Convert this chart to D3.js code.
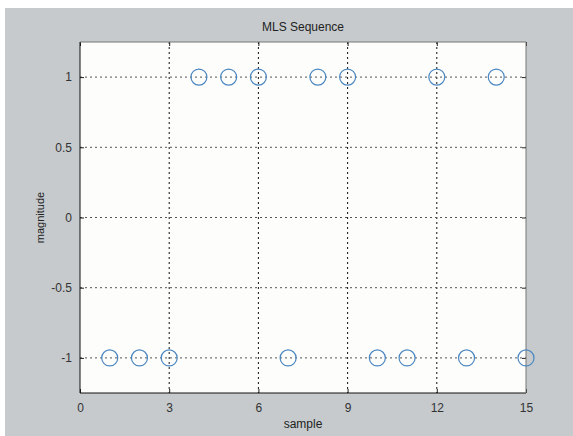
<!DOCTYPE html>
<meta charset="utf-8">
<style>
body { margin: 0; background: #fff; }
svg { display: block; }
text { font-family: "Liberation Sans", Arial, sans-serif; }
</style>
<body>
<script src="https://d3js.org/d3.v7.min.js"></script>
<script>

// MLS sequence values, sample 1..15
var samples = [1, 2, 3, 4, 5, 6, 7, 8, 9, 10, 11, 12, 13, 14, 15];
var values  = [-1, -1, -1, 1, 1, 1, -1, 1, 1, -1, -1, 1, -1, 1, -1];
var xTicks = [0, 3, 6, 9, 12, 15];
var yTicks = [-1, -0.5, 0, 0.5, 1];

var W = 573, H = 436;
var margin = {top: 42, right: 47, bottom: 43, left: 80},
    width = W - margin.left - margin.right,
    height = H - margin.top - margin.bottom;

var svg = d3.select("body").append("svg")
    .attr("width", W)
    .attr("height", H);

// gray figure background
svg.append("rect")
    .attr("x", 5).attr("y", 8)
    .attr("width", W - 5).attr("height", H - 8)
    .attr("fill", "#c6cacd");

var g = svg.append("g")
    .attr("transform", "translate(" + margin.left + "," + margin.top + ")");

var x = d3.scaleLinear().domain([0, 15]).range([0, width]);
var y = d3.scaleLinear().domain([-1.25, 1.25]).range([height, 0]);

g.append("rect")
    .attr("width", width).attr("height", height)
    .attr("fill", "#fdfdfc");

// grid
g.selectAll(".vgrid").data(xTicks.slice(1, -1)).enter().append("line")
    .attr("x1", d => x(d)).attr("x2", d => x(d))
    .attr("y1", 0).attr("y2", height)
    .attr("stroke", "#111").attr("stroke-width", 1)
    .attr("stroke-dasharray", "2,3");

g.selectAll(".hgrid").data(yTicks).enter().append("line")
    .attr("x1", 0).attr("x2", width)
    .attr("y1", d => y(d)).attr("y2", d => y(d))
    .attr("stroke", "#555").attr("stroke-width", 1)
    .attr("stroke-dasharray", "2,3");

// axes
var xAxis = g.append("g")
    .attr("transform", "translate(0," + height + ")")
    .call(d3.axisBottom(x).tickValues(xTicks).tickSize(-4).tickPadding(10));
var xTop = g.append("g")
    .call(d3.axisTop(x).tickValues(xTicks).tickSize(-4).tickFormat(""));
var yAxis = g.append("g")
    .call(d3.axisLeft(y).tickValues(yTicks).tickSize(-4).tickPadding(8)
      .tickFormat(d => String(d)));
var yRight = g.append("g")
    .attr("transform", "translate(" + width + ",0)")
    .call(d3.axisRight(y).tickValues(yTicks).tickSize(-4).tickFormat(""));

[xAxis, xTop, yAxis, yRight].forEach(function(a) {
  a.select(".domain").remove();
  a.selectAll("line").attr("stroke", "#222");
  a.selectAll("text").attr("font-size", 12).attr("fill", "#333")
    .attr("font-family", "Liberation Sans, Arial, sans-serif");
});

// frame
g.append("line").attr("x1", 0).attr("x2", 0).attr("y1", 0).attr("y2", height)
    .attr("stroke", "#111");
g.append("line").attr("x1", 0).attr("x2", width).attr("y1", height).attr("y2", height)
    .attr("stroke", "#111");
g.append("line").attr("x1", 0).attr("x2", width).attr("y1", 0).attr("y2", 0)
    .attr("stroke", "#777");
g.append("line").attr("x1", width).attr("x2", width).attr("y1", 0).attr("y2", height)
    .attr("stroke", "#777");

// markers
g.selectAll(".pt").data(samples).enter().append("circle")
    .attr("cx", d => x(d))
    .attr("cy", (d, i) => y(values[i]))
    .attr("r", 8)
    .attr("fill", "none")
    .attr("stroke", "#4a86c0")
    .attr("stroke-width", 1.2);

// labels
svg.append("text")
    .attr("x", margin.left + width / 2).attr("y", 31)
    .attr("text-anchor", "middle")
    .attr("font-size", 12).attr("fill", "#222")
    .text("MLS Sequence");

svg.append("text")
    .attr("x", margin.left + width / 2).attr("y", 428)
    .attr("text-anchor", "middle")
    .attr("font-size", 12).attr("fill", "#222")
    .text("sample");

svg.append("text")
    .attr("transform", "translate(44," + (margin.top + height / 2) + ") rotate(-90)")
    .attr("text-anchor", "middle")
    .attr("font-size", 11).attr("fill", "#222")
    .text("magnitude");

</script>
</body>
